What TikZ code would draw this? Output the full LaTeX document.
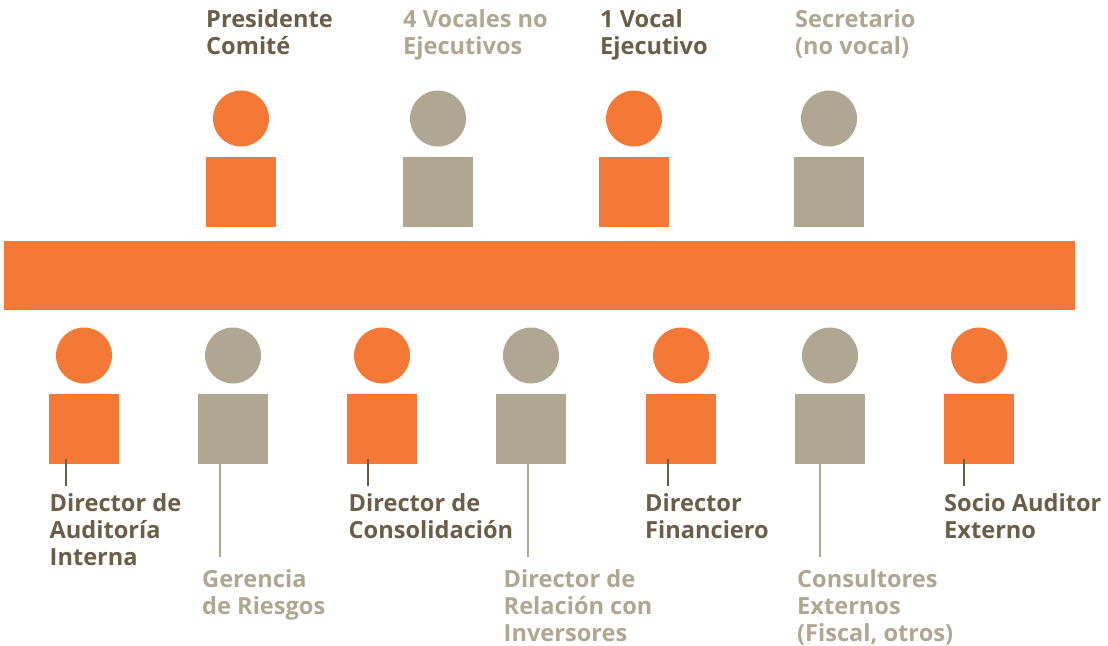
\documentclass[tikz,border=0pt]{standalone}
\usepackage{fontspec}
\setmainfont{Open Sans}
\definecolor{org}{HTML}{F47836}
\definecolor{gry}{HTML}{AFA792}
\definecolor{drk}{HTML}{6B5E48}
\tikzset{
 px/.style={x=1pt,y=-1pt},
 head/.style={circle,minimum size=56pt,inner sep=0pt,fill=#1},
 body/.style={minimum size=70pt,inner sep=0pt,fill=#1},
 lbl/.style={anchor=north west,align=left,inner sep=0pt,font=\fontsize{23.6}{27}\selectfont\bfseries,text=#1},
 lead/.style={draw=#1,line width=1.1pt}
}
\begin{document}
\begin{tikzpicture}[px]
\useasboundingbox (0,0) rectangle (1108,645);
\node[fill=org,inner sep=0pt,minimum width=1071pt,minimum height=69pt,anchor=north west] (bar) at (4,241) {};
% top
\foreach \n/\x/\c in {a/241/org,b/438/gry,c/634/org,d/829/gry}{
 \node[head=\c] (h\n) at (\x,118.5) {};
 \node[body=\c] (b\n) at (\x,192) {};
}
\node[lbl=drk] (ta) at (206,9.5) {Presidente\\Comité};
\node[lbl=gry] (tb) at (403,9.5) {4 Vocales no\\Ejecutivos};
\node[lbl=drk] (tc) at (600,9.5) {1 Vocal\\Ejecutivo};
\node[lbl=gry] (td) at (795,9.5) {Secretario\\(no vocal)};
% bottom
\foreach \n/\x/\c in {e/84/org,f/233/gry,g/382/org,h/531/gry,i/681/org,j/830/gry,k/979/org}{
 \node[head=\c] (h\n) at (\x,355.5) {};
 \node[body=\c] (b\n) at (\x,429) {};
}
\node[lbl=drk] (te) at (49.5,493) {Director de\\Auditoría\\Interna};
\node[lbl=gry] (tf) at (202,569) {Gerencia\\de Riesgos};
\node[lbl=drk] (tg) at (348.5,493) {Director de\\Consolidación};
\node[lbl=gry] (th) at (503.5,569) {Director de\\Relación con\\Inversores};
\node[lbl=drk] (ti) at (645,493) {Director\\Financiero};
\node[lbl=gry] (tj) at (797,569) {Consultores\\Externos\\(Fiscal, otros)};
\node[lbl=drk] (tk) at (944,493) {Socio Auditor\\Externo};
% leads
\coordinate (le) at (66,459); \coordinate (lee) at (66,486);
\draw[lead=drk] (le) -- (lee);
\coordinate (lf) at (220,464); \coordinate (lff) at (220,557);
\draw[lead=gry] (lf) -- (lff);
\coordinate (lg) at (368,459); \coordinate (lgg) at (368,486);
\draw[lead=drk] (lg) -- (lgg);
\coordinate (lh) at (528,464); \coordinate (lhh) at (528,557);
\draw[lead=gry] (lh) -- (lhh);
\coordinate (li) at (668,459); \coordinate (lii) at (668,486);
\draw[lead=drk] (li) -- (lii);
\coordinate (lj) at (820,464); \coordinate (ljj) at (820,557);
\draw[lead=gry] (lj) -- (ljj);
\coordinate (lk) at (964,459); \coordinate (lkk) at (964,486);
\draw[lead=drk] (lk) -- (lkk);
\end{tikzpicture}
\end{document}
